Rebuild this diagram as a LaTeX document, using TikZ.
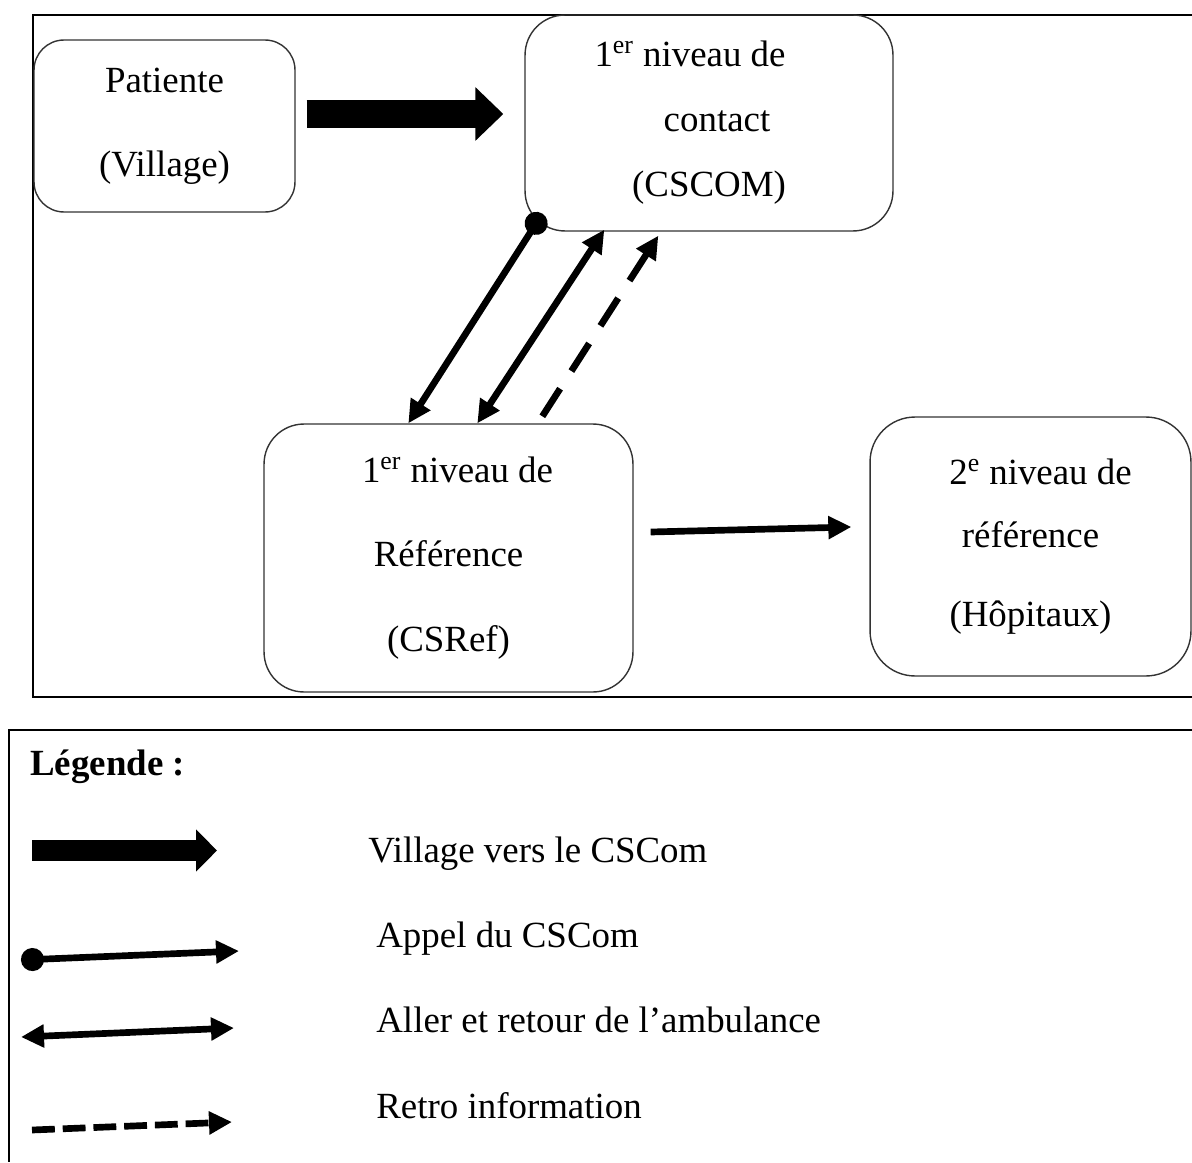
\documentclass[tikz,border=0pt]{standalone}
\usepackage{fontspec}
\setmainfont{Liberation Serif}
\usetikzlibrary{arrows.meta}

\tikzset{pointe/.tip={Triangle[length=0.46cm,width=0.44cm]},
  rond/.tip={Circle[length=0.46cm]}}

\begin{document}
\begin{tikzpicture}[x=0.02cm, y=-0.02cm,
  font=\fontsize{21}{48}\selectfont,
  niveau/.style={draw=black!80, line width=0.8pt, rounded corners=0.8cm, align=center, inner sep=0pt},
  cadre/.style={line width=1.1pt},
  grosse/.style={line width=0.56cm, -{Triangle[length=0.56cm,width=1.04cm]}},
  fleche/.style={line width=3.8pt},
  appel/.style={fleche, rond-pointe},
  navette/.style={fleche, pointe-pointe},
  retro/.style={fleche, dash pattern=on 18.7pt off 11.9pt, -pointe},
  texte/.style={anchor=base west, inner sep=0pt}]
\useasboundingbox (0,0) rectangle (1192,1162);

% schema
\draw[cadre] (1192,15) -- (33,15) -- (33,697) -- (1192,697);

\node[niveau, rounded corners=0.6cm, minimum width=5.22cm, minimum height=3.44cm] (patiente) at (164.5,126) {Patiente\\(Village)};
\node[niveau, minimum width=7.36cm, minimum height=4.32cm, font=\fontsize{21}{37}\selectfont] (cscom) at (709,123) {1\textsuperscript{er} niveau de\hspace*{0.76cm}\\\hspace*{0.32cm}contact\\(CSCOM)};
\node[niveau, minimum width=7.38cm, minimum height=5.36cm] (csref) at (448.5,558) {\hspace*{0.36cm}1\textsuperscript{er} niveau de\\Référence\\(CSRef)};
\node[niveau, rounded corners=0.9cm, minimum width=6.42cm, minimum height=5.18cm, font=\fontsize{21}{36}\selectfont] (hopitaux) at (1030.5,546.5) {\hspace*{0.4cm}2\textsuperscript{e} niveau de\\référence\\[0.3cm](Hôpitaux)};

\draw[grosse] ([shift={(11,-12)}]patiente.east) -- ([shift={(-21,-9)}]cscom.west);
\draw[appel] ([shift={(18,-18)}]cscom.south west) -- ([shift={(145,0)}]csref.north west);
\draw[navette] ([shift={(214,0)}]csref.north west) -- ([shift={(80,-2)}]cscom.south west);
\draw[retro] ([shift={(279,-7)}]csref.north west) -- ([shift={(134,4)}]cscom.south west);
\draw[fleche, -pointe] ([shift={(17,-26)}]csref.east) -- ([shift={(-18,-19.5)}]hopitaux.west);

% legende
\draw[cadre] (1192,730) -- (9,730) -- (9,1162);
\node[texte, font=\bfseries\fontsize{21}{25}\selectfont] (legende) at (30,775) {Légende :};

\coordinate (v1) at (32,850.5);
\coordinate (v2) at (217,850.5);
\draw[grosse, line width=0.42cm, -{Triangle[length=0.42cm,width=0.82cm]}] (v1) -- (v2);
\node[texte] (village) at (368,862) {Village vers le CSCom};

\coordinate (a1) at (21,960);
\coordinate (a2) at (239,951);
\draw[appel] (a1) -- (a2);
\node[texte] (appelcs) at (376,947) {Appel du CSCom};

\coordinate (n1) at (21,1037);
\coordinate (n2) at (234,1028);
\draw[navette] (n1) -- (n2);
\node[texte] (aller) at (376,1032) {Aller et retour de l’ambulance};

\coordinate (r1) at (32,1130);
\coordinate (r2) at (232,1122);
\draw[retro, dash pattern=on 13pt off 4.5pt] (r1) -- (r2);
\node[texte] (retroinfo) at (376,1118) {Retro information};

\end{tikzpicture}
\end{document}
